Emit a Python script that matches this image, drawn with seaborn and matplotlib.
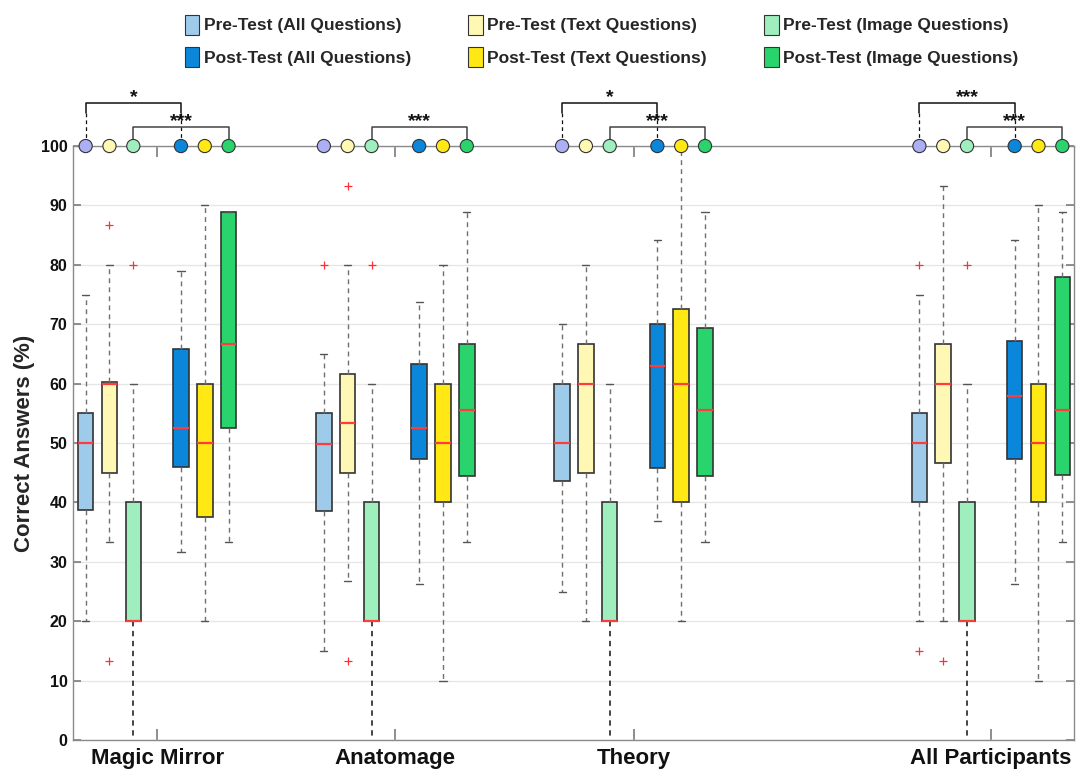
import numpy as np
import pandas as pd
import seaborn as sns
import matplotlib.pyplot as plt
from matplotlib.patches import Patch

# groups and series
groups = ["Magic Mirror", "Anatomage", "Theory", "All Participants"]
group_pos = [1, 2, 3, 4.5]
series = ["Pre-Test (All Questions)", "Pre-Test (Text Questions)", "Pre-Test (Image Questions)",
          "Post-Test (All Questions)", "Post-Test (Text Questions)", "Post-Test (Image Questions)"]
offsets = [-0.3, -0.2, -0.1, 0.1, 0.2, 0.3]

# box stats per series, one value per group
q1 = [[38.7, 38.5, 43.6, 40.0],
      [45.0, 45.0, 45.0, 46.7],
      [20.0, 20.0, 20.0, 20.0],
      [46.0, 47.3, 45.8, 47.3],
      [37.5, 40.0, 40.0, 40.0],
      [52.6, 44.4, 44.4, 44.6]]
med = [[50.0, 49.8, 50.0, 50.0],
       [60.0, 53.3, 60.0, 60.0],
       [20.0, 20.0, 20.0, 20.0],
       [52.6, 52.5, 62.9, 57.9],
       [50.0, 50.0, 60.0, 50.0],
       [66.7, 55.6, 55.6, 55.6]]
q3 = [[55.0, 55.0, 60.0, 55.0],
      [60.2, 61.7, 66.7, 66.7],
      [40.0, 40.0, 40.0, 40.0],
      [65.8, 63.3, 70.0, 67.2],
      [60.0, 60.0, 72.5, 60.0],
      [88.9, 66.7, 69.4, 78.0]]
whis_hi = [[75.0, 65.0, 70.0, 75.0],
           [80.0, 80.0, 80.0, 93.3],
           [60.0, 60.0, 60.0, 60.0],
           [79.0, 73.7, 84.2, 84.2],
           [90.0, 80.0, 100.0, 90.0],
           [88.9, 88.9, 88.9, 88.9]]
whis_lo = [[20.0, 15.0, 25.0, 20.0],
           [33.3, 26.7, 20.0, 20.0],
           [0.0, 0.0, 0.0, 0.0],
           [31.6, 26.3, 36.8, 26.3],
           [20.0, 10.0, 20.0, 10.0],
           [33.3, 33.3, 33.3, 33.3]]
outliers = [[[], [80.0], [], [80.0, 15.0]],
            [[86.7, 13.3], [93.3, 13.3], [], [13.3]],
            [[80.0], [80.0], [], [80.0]],
            [[], [], [], []],
            [[], [], [], []],
            [[], [], [], []]]

# significance brackets: (group index, left series, right series, level, label)
sig = [(0, 0, 3, "high", "*"), (0, 2, 5, "low", "***"),
       (1, 2, 5, "low", "***"),
       (2, 0, 3, "high", "*"), (2, 2, 5, "low", "***"),
       (3, 0, 3, "high", "***"), (3, 2, 5, "low", "***")]

colors = ["#9ecbe9", "#fff8b4", "#9eeebe", "#0a87db", "#ffe814", "#2ad46c"]
dot_colors = ["#adaff5"] + colors[1:]

sns.set_theme(style="white")
plt.rcParams['font.family'] = ['Liberation Sans', 'DejaVu Sans']
plt.rcParams['font.weight'] = 'bold'

fig = plt.figure(figsize=(10.82, 7.69), dpi=100)
ax = fig.add_axes([0.0675, 0.0377, 0.9251, 0.7724])

stats, pos, cols = [], [], []
for gi, g in enumerate(groups):
    for si in range(6):
        stats.append(dict(med=med[si][gi], q1=q1[si][gi], q3=q3[si][gi],
                          whislo=whis_lo[si][gi], whishi=whis_hi[si][gi],
                          fliers=outliers[si][gi]))
        pos.append(group_pos[gi] + offsets[si])
        cols.append(colors[si])

bp = ax.bxp(stats, positions=pos, widths=0.065, capwidths=0.03, patch_artist=True,
            boxprops=dict(edgecolor="#333333", linewidth=1.2),
            medianprops=dict(color="#ff3b3b", linewidth=1.6),
            whiskerprops=dict(color="#707070", linewidth=1, linestyle=(0, (3.5, 3))),
            capprops=dict(color="#555555", linewidth=1),
            flierprops=dict(marker="+", markeredgecolor="#ff3030", markersize=6, markeredgewidth=0.9),
            manage_ticks=False, zorder=3)
for k, box in enumerate(bp["boxes"]):
    box.set_facecolor(cols[k])
    if k % 6 == 2:
        bp["whiskers"][2 * k].set_color("#111111")
        bp["whiskers"][2 * k].set_linewidth(1.1)
        bp["caps"][2 * k].set_visible(False)

# dots on the 100 line
dots = pd.DataFrame({"x": pos, "y": [100] * len(pos), "s": [series[k % 6] for k in range(len(pos))]})
sns.scatterplot(data=dots, x="x", y="y", hue="s", palette=dict(zip(series, dot_colors)),
                s=90, edgecolor="#333333", linewidth=0.8, legend=False, clip_on=False, zorder=6, ax=ax)

# significance brackets
for gi, a, b, level, label in sig:
    xa = group_pos[gi] + offsets[a]
    xb = group_pos[gi] + offsets[b]
    if level == "high":
        yb, col = 107.3, "#111111"
        ax.plot([xa, xa, xb, xb], [105.6, yb, yb, 105.6], color=col, lw=1.1, clip_on=False)
        for xx in (xa, xb):
            ax.plot([xx, xx], [105.6, 100.8], color=col, lw=0.9, ls=(0, (3, 2.5)), clip_on=False)
    else:
        yb, col = 103.2, "#444444"
        ax.plot([xa, xa, xb, xb], [100.9, yb, yb, 100.9], color=col, lw=1.1, clip_on=False)
    ax.text((xa + xb) / 2, yb - 0.5, label, ha="center", va="bottom", fontsize=14,
            fontweight="bold", color="#111111")

ax.set_xlim(0.647, 4.849)
ax.set_ylim(0, 100)
ax.set_yticks(np.arange(0, 101, 10))
ax.set_xticks(group_pos)
ax.set_xticklabels(groups, fontsize=16, fontweight="bold")
ax.set_xlabel("")
ax.set_ylabel("Correct Answers (%)", fontsize=16, fontweight="bold", labelpad=4)
ax.yaxis.grid(True, color="#e6e6e6", lw=1)
ax.set_axisbelow(True)
for lab in ax.get_yticklabels():
    lab.set_fontsize(11.5)
    lab.set_fontweight("bold")
ax.tick_params(axis="y", direction="in", length=6, color="#808080", right=True, left=True, pad=4,
               labelcolor="#111111")
ax.tick_params(axis="x", direction="in", length=8, color="#808080", top=True, bottom=True, pad=6,
               labelcolor="#111111")
for sp in ax.spines.values():
    sp.set_color("#8a8a8a")
    sp.set_linewidth(1)
    sp.set_visible(True)

handles = []
labels = []
for si in [0, 3, 1, 4, 2, 5]:
    handles.append(Patch(facecolor=colors[si], edgecolor="#333333", linewidth=0.8))
    labels.append(series[si])
fig.legend(handles, labels, ncol=3, loc="center", bbox_to_anchor=(0.556, 0.947), frameon=False,
           prop=dict(weight="bold", size=12.5), handlelength=0.85, handleheight=1.4,
           handletextpad=0.25, columnspacing=3.3, labelspacing=0.7)

fig.savefig("out.png", dpi=100)
